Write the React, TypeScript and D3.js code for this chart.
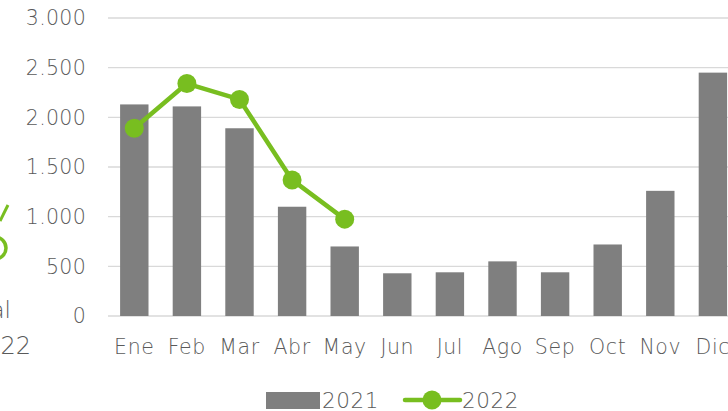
import React from "react";
import * as d3 from "d3";

const months = ["Ene", "Feb", "Mar", "Abr", "May", "Jun", "Jul", "Ago", "Sep", "Oct", "Nov", "Dic"];
const values2021 = [2130, 2110, 1890, 1100, 700, 430, 440, 550, 440, 720, 1260, 2450];
const values2022 = [1890, 2340, 2180, 1370, 975];
const yTicks = [0, 500, 1000, 1500, 2000, 2500, 3000];
const tickLabels = ["0", "500", "1.000", "1.500", "2.000", "2.500", "3.000"];
const seriesNames = ["2021", "2022"];

const W = 728;
const H = 411;
const FONT = "'DejaVu Sans', sans-serif";
const GRAY = "#7f7f7f";
const GREEN = "#78be20";
const TEXT = "#5a5a5a";
const FS = 20.5;
const LS = 0.6;

export default function App() {
  const x = d3.scaleBand<string>().domain(months).range([108, 108 + 52.6 * 12]).paddingInner(0.46).paddingOuter(0.23);
  const y = d3.scaleLinear().domain([0, 3000]).range([316, 18]);
  const cx = (m: string) => (x(m) as number) + x.bandwidth() / 2;
  const line = d3
    .line<number>()
    .x((_, i) => cx(months[i]))
    .y((d) => y(d));

  return (
    <svg width={W} height={H} style={{ position: "absolute", left: 0, top: 0, background: "#fff" }} fontFamily={FONT} fontWeight={300}>
      {/* cropped neighbouring element on the left */}
      <line x1={8} y1={205} x2={0} y2={221} stroke={GREEN} strokeWidth={3} />
      <circle cx={-5} cy={248} r={11} fill="none" stroke={GREEN} strokeWidth={3.5} />
      <text x={11} y={318} textAnchor="end" fontSize={23} fill={TEXT}>Total</text>
      <text x={31} y={354} textAnchor="end" fontSize={24} fill={TEXT}>2022</text>

      {/* grid */}
      {yTicks.map((t) => (
        <line key={t} x1={108} x2={W} y1={y(t)} y2={y(t)} stroke="#d9d9d9" strokeWidth={1.3} />
      ))}
      {yTicks.map((t, i) => (
        <text key={"l" + t} x={86} y={y(t)} dy="0.35em" textAnchor="end" fontSize={FS} letterSpacing={0.3} fill={TEXT}>
          {tickLabels[i]}
        </text>
      ))}

      {/* bars */}
      {values2021.map((v, i) => (
        <rect
          key={months[i]}
          x={x(months[i])}
          y={y(v)}
          width={x.bandwidth()}
          height={y(0) - y(v)}
          fill={GRAY}
        />
      ))}

      {/* x labels */}
      {months.map((m) => (
        <text key={"m" + m} x={cx(m)} y={347} dy="0.35em" textAnchor="middle" fontSize={FS} letterSpacing={LS} fill={TEXT}>
          {m}
        </text>
      ))}

      {/* line 2022 */}
      <path d={line(values2022) || ""} fill="none" stroke={GREEN} strokeWidth={4.5} strokeLinejoin="round" />
      {values2022.map((v, i) => (
        <circle key={"p" + i} cx={cx(months[i])} cy={y(v)} r={9.5} fill={GREEN} />
      ))}

      {/* legend */}
      <rect x={266} y={392} width={54} height={17} fill={GRAY} />
      <text x={322} y={400} dy="0.35em" fontSize={21.5} letterSpacing={LS} fill={TEXT}>{seriesNames[0]}</text>
      <line x1={405} x2={460} y1={400} y2={400} stroke={GREEN} strokeWidth={4.5} strokeLinecap="round" />
      <circle cx={432} cy={400} r={9.5} fill={GREEN} />
      <text x={462} y={400} dy="0.35em" fontSize={21.5} letterSpacing={LS} fill={TEXT}>{seriesNames[1]}</text>
    </svg>
  );
}
